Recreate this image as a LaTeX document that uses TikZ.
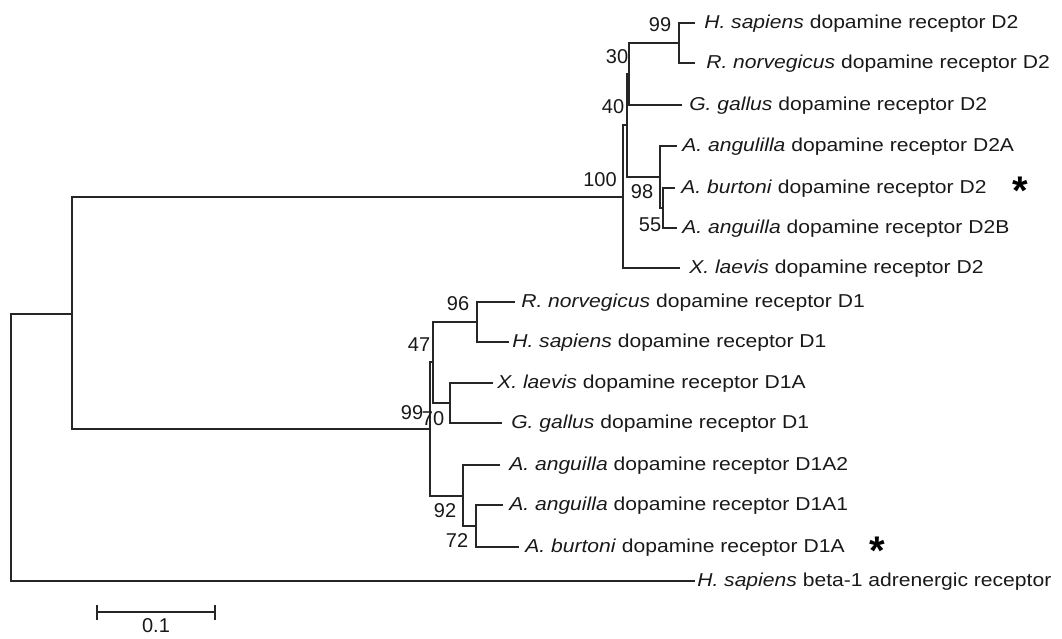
\documentclass[tikz,border=0pt]{standalone}
\usepackage{fontspec}
\setmainfont{Liberation Sans}
\usepackage{graphicx}
\newcommand\leafname[2]{\scalebox{1.13}[1]{\textit{#1} #2}}
\begin{document}
\begin{tikzpicture}[x=0.75pt,y=-0.75pt,
  br/.style={line width=1.5pt, draw=black!85},
  leaf/.style={anchor=base west, inner sep=0pt, font=\fontsize{14}{16}\selectfont, text=black!90},
  bs/.style={inner sep=0pt, font=\fontsize{15}{17}\selectfont, text=black!90},
  star/.style={anchor=north, inner sep=0pt, font=\fontsize{30}{32}\selectfont\bfseries, text=black}]
\useasboundingbox (0,0) rectangle (1062,638);
% internal nodes
\coordinate (R) at (11,447.5);
\coordinate (D) at (72,314);
\coordinate (n100) at (623,196.5);
\coordinate (n40) at (627,125.5);
\coordinate (n30) at (629,74);
\coordinate (n99) at (679,43);
\coordinate (n98) at (660,177);
\coordinate (n55) at (663,208);
\coordinate (n99b) at (430,429);
\coordinate (n47) at (433,362);
\coordinate (n96) at (477,322);
\coordinate (n70) at (450,403);
\coordinate (n92) at (463,495.5);
\coordinate (n72) at (476,526);
% leaves
\coordinate (HsD2) at (695,23);
\coordinate (RnD2) at (695,63);
\coordinate (GgD2) at (682,105);
\coordinate (AaD2A) at (677,146);
\coordinate (AbD2) at (675,188);
\coordinate (AaD2B) at (677,228);
\coordinate (XlD2) at (680,268);
\coordinate (RnD1) at (515,302);
\coordinate (HsD1) at (509,342);
\coordinate (XlD1A) at (493,383);
\coordinate (GgD1) at (502,423);
\coordinate (AaD1A2) at (500,465);
\coordinate (AaD1A1) at (503,505);
\coordinate (AbD1A) at (519,547);
\coordinate (O) at (695,581);
% branches
\draw[br] (R) |- (D);
\draw[br] (R) |- (O);
\draw[br] (D) |- (n100);
\draw[br] (D) |- (n99b);
\draw[br] (n100) |- (n40);
\draw[br] (n100) |- (XlD2);
\draw[br] (n40) |- (n30);
\draw[br] (n40) |- (n98);
\draw[br] (n30) |- (n99);
\draw[br] (n30) |- (GgD2);
\draw[br] (n99) |- (HsD2);
\draw[br] (n99) |- (RnD2);
\draw[br] (n98) |- (AaD2A);
\draw[br] (n98) |- (n55);
\draw[br] (n55) |- (AbD2);
\draw[br] (n55) |- (AaD2B);
\draw[br] (n99b) |- (n47);
\draw[br] (n99b) |- (n92);
\draw[br] (n47) |- (n96);
\draw[br] (n47) |- (n70);
\draw[br] (n96) |- (RnD1);
\draw[br] (n96) |- (HsD1);
\draw[br] (n70) |- (XlD1A);
\draw[br] (n70) |- (GgD1);
\draw[br] (n92) |- (AaD1A2);
\draw[br] (n92) |- (n72);
\draw[br] (n72) |- (AaD1A1);
\draw[br] (n72) |- (AbD1A);
% leaf labels
\node[leaf] (tHsD2) at (704,28.5) {\leafname{H. sapiens}{dopamine receptor D2}};
\node[leaf] (tRnD2) at (706,68.5) {\leafname{R. norvegicus}{dopamine receptor D2}};
\node[leaf] (tGgD2) at (689,110.5) {\leafname{G. gallus}{dopamine receptor D2}};
\node[leaf] (tAaD2A) at (682,151.5) {\leafname{A. angulilla}{dopamine receptor D2A}};
\node[leaf] (tAbD2) at (681,193.5) {\leafname{A. burtoni}{dopamine receptor D2}};
\node[leaf] (tAaD2B) at (682,233.5) {\leafname{A. anguilla}{dopamine receptor D2B}};
\node[leaf] (tXlD2) at (689,273.5) {\leafname{X. laevis}{dopamine receptor D2}};
\node[leaf] (tRnD1) at (521,307.5) {\leafname{R. norvegicus}{dopamine receptor D1}};
\node[leaf] (tHsD1) at (512,347.5) {\leafname{H. sapiens}{dopamine receptor D1}};
\node[leaf] (tXlD1A) at (497,388.5) {\leafname{X. laevis}{dopamine receptor D1A}};
\node[leaf] (tGgD1) at (511,428.5) {\leafname{G. gallus}{dopamine receptor D1}};
\node[leaf] (tAaD1A2) at (509,470.5) {\leafname{A. anguilla}{dopamine receptor D1A2}};
\node[leaf] (tAaD1A1) at (509,510.5) {\leafname{A. anguilla}{dopamine receptor D1A1}};
\node[leaf] (tAbD1A) at (525,552.5) {\leafname{A. burtoni}{dopamine receptor D1A}};
\node[leaf] (tO) at (697,586.5) {\leafname{H. sapiens}{beta-1 adrenergic receptor}};
% asterisks
\node[star] (s1) at (1020,177) {*};
\node[star] (s2) at (877,537) {*};
% bootstrap values
\node[bs] (b99) at (660,25) {99};
\node[bs] (b30) at (617,57) {30};
\node[bs] (b40) at (613,107) {40};
\node[bs] (b100) at (600,180) {100};
\node[bs] (b98) at (642,192) {98};
\node[bs] (b55) at (650,225) {55};
\node[bs] (b96) at (458,304) {96};
\node[bs] (b47) at (419,345) {47};
\node[bs] (b99b) at (412,413) {99};
\node[bs] (b70) at (433,419) {70};
\node[bs] (b92) at (445,511) {92};
\node[bs] (b72) at (457,541) {72};
% scale bar
\coordinate (sbL) at (97,612);
\coordinate (sbR) at (215,612);
\coordinate (sbLt) at (97,605);
\coordinate (sbLb) at (97,620);
\coordinate (sbRt) at (215,605);
\coordinate (sbRb) at (215,620);
\draw[br] (sbL) -- (sbR);
\draw[br] (sbLt) -- (sbLb);
\draw[br] (sbRt) -- (sbRb);
\node[bs] (sbt) at (156,626) {0.1};
\end{tikzpicture}
\end{document}
